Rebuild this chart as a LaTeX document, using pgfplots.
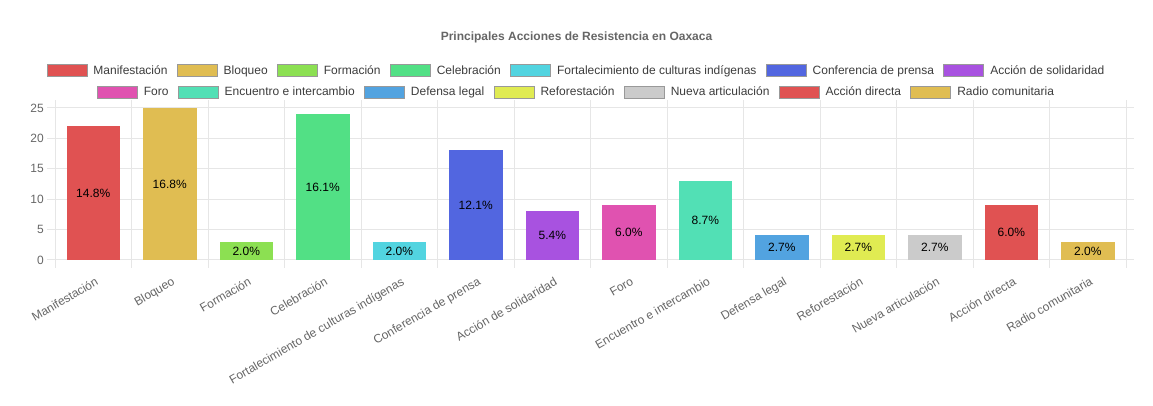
\documentclass[border=0pt]{standalone}
\usepackage{fontspec}
\setmainfont{Liberation Sans}
\usepackage{pgfplots}
\pgfplotsset{compat=1.18}
\usepackage{pgfplotstable}
\definecolor{cA}{HTML}{E05252}
\definecolor{cB}{HTML}{E0BD52}
\definecolor{cC}{HTML}{8CE052}
\definecolor{cD}{HTML}{52E085}
\definecolor{cE}{HTML}{52D4E0}
\definecolor{cF}{HTML}{5266E0}
\definecolor{cG}{HTML}{A852E0}
\definecolor{cH}{HTML}{E052B0}
\definecolor{cI}{HTML}{52E0B5}
\definecolor{cJ}{HTML}{52A3E0}
\definecolor{cK}{HTML}{E0EB52}
\definecolor{cL}{HTML}{CBCBCB}
\definecolor{cM}{HTML}{E05252}
\definecolor{cN}{HTML}{E0BD52}
\definecolor{tickgray}{HTML}{666666}
\definecolor{legtext}{HTML}{3C3C3C}
\definecolor{gridgray}{HTML}{E6E6E6}

\pgfplotstableread{
x y label
0 22 14.8
1 25 16.8
2 3 2.0
3 24 16.1
4 3 2.0
5 18 12.1
6 8 5.4
7 9 6.0
8 13 8.7
9 4 2.7
10 4 2.7
11 4 2.7
12 9 6.0
13 3 2.0
}\labeltable

\newcommand{\twelve}{\fontsize{12}{14}\selectfont}
\pgfplotsset{
  boxlegend/.style={legend image code/.code={\draw[#1,draw=black!40,line width=0.8pt] (0pt,-6pt) rectangle (40pt,6pt);}},
  mybar/.style={ybar, bar width=0.69, bar shift=0pt, fill=#1, draw=#1, boxlegend},
  mylegend/.style={legend style={draw=none, fill=none, font=\twelve, text=legtext,
      nodes={inner sep=0pt}, column sep=0pt,
      /tikz/every odd column/.append style={column sep=6pt},
      /tikz/every even column/.append style={column sep=9.4pt},
      at={(0.486,#1)}, anchor=center},
    legend columns=7},
}

\begin{document}
\begin{tikzpicture}
\path[use as bounding box] (0pt,0pt) rectangle (1153pt,406pt);
\node[font=\bfseries\twelve, text=tickgray] at (576.5pt,369pt) {Principales Acciones de Resistencia en Oaxaca};
\begin{axis}[
  at={(55pt,146pt)}, anchor=south west,
  width=1071pt, height=152pt, scale only axis,
  xmin=-0.5, xmax=13.5, ymin=0, ymax=25,
  xtick={0,...,13},
  xticklabels={Manifestación,Bloqueo,Formación,Celebración,Fortalecimiento de culturas indígenas,Conferencia de prensa,Acción de solidaridad,Foro,Encuentro e intercambio,Defensa legal,Reforestación,Nueva articulación,Acción directa,Radio comunitaria},
  minor xtick={-0.5,0.5,...,13.5},
  ytick={0,5,...,25},
  xminorgrids=true, ymajorgrids=true, xmajorgrids=false,
  grid style={gridgray, line width=1pt},
  minor grid style={gridgray, line width=1pt},
  axis line style={draw=none},
  tick align=outside,
  major tick length=8pt, minor tick length=8pt,
  major x tick style={draw=none},
  minor x tick style={gridgray, line width=1pt},
  ytick style={gridgray, line width=1pt},
  /pgf/number format/assume math mode=true,
  tick label style={font=\twelve, text=tickgray},
  yticklabel style={anchor=east, inner sep=0pt, xshift=-3pt},
  xticklabel style={rotate=30, anchor=north east, inner sep=0pt, xshift=-3pt, yshift=-8pt},
  mylegend=1.2467,
  every node near coord/.append style={anchor=center, font=\twelve, text=black, inner sep=0pt},
]
\addplot[mybar=cA] coordinates {(0,22)}; \addlegendentry{Manifestación}
\addplot[mybar=cB] coordinates {(1,25)}; \addlegendentry{Bloqueo}
\addplot[mybar=cC] coordinates {(2,3)}; \addlegendentry{Formación}
\addplot[mybar=cD] coordinates {(3,24)}; \addlegendentry{Celebración}
\addplot[mybar=cE] coordinates {(4,3)}; \addlegendentry{Fortalecimiento de culturas indígenas}
\addplot[mybar=cF] coordinates {(5,18)}; \addlegendentry{Conferencia de prensa}
\addplot[mybar=cG] coordinates {(6,8)}; \addlegendentry{Acción de solidaridad}
\addplot[mybar=cH, forget plot] coordinates {(7,9)};
\addplot[mybar=cI, forget plot] coordinates {(8,13)};
\addplot[mybar=cJ, forget plot] coordinates {(9,4)};
\addplot[mybar=cK, forget plot] coordinates {(10,4)};
\addplot[mybar=cL, forget plot] coordinates {(11,4)};
\addplot[mybar=cM, forget plot] coordinates {(12,9)};
\addplot[mybar=cN, forget plot] coordinates {(13,3)};
\addplot[draw=none, mark=none, forget plot, point meta=explicit symbolic,
  nodes near coords={\pgfplotspointmeta\%}]
  table[x=x, y expr=\thisrow{y}/2, meta=label] {\labeltable};
\end{axis}
\begin{axis}[
  at={(55pt,146pt)}, anchor=south west,
  width=1071pt, height=152pt, scale only axis,
  xmin=-0.5, xmax=13.5, ymin=0, ymax=25,
  hide axis,
  mylegend=1.105,
]
\addlegendimage{boxlegend, fill=cH}\addlegendentry{Foro}
\addlegendimage{boxlegend, fill=cI}\addlegendentry{Encuentro e intercambio}
\addlegendimage{boxlegend, fill=cJ}\addlegendentry{Defensa legal}
\addlegendimage{boxlegend, fill=cK}\addlegendentry{Reforestación}
\addlegendimage{boxlegend, fill=cL}\addlegendentry{Nueva articulación}
\addlegendimage{boxlegend, fill=cM}\addlegendentry{Acción directa}
\addlegendimage{boxlegend, fill=cN}\addlegendentry{Radio comunitaria}
\end{axis}
\end{tikzpicture}
\end{document}
